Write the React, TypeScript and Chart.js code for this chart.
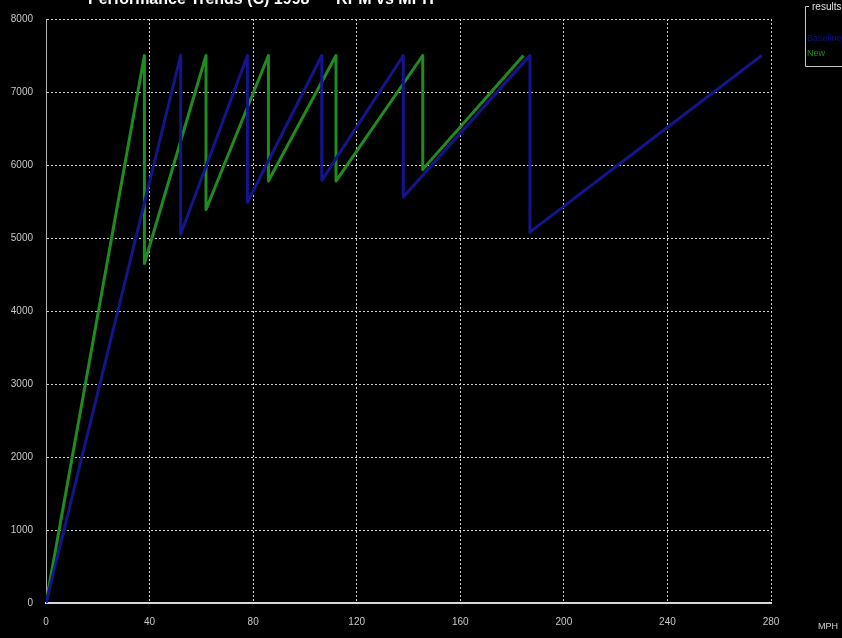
import React, { useEffect, useRef } from "react";
import { Chart, registerables } from "chart.js";

Chart.register(...registerables);

const titleText = "Performance Trends (C) 1998      RPM vs MPH";
const legendTitle = "results";
const seriesNames = ["Baseline", "New"];
const xTicksMax = 280;
const yTicksMax = 8000;

const baselineMph = [0, 52.0, 52.0, 77.8, 77.8, 106.5, 106.5, 138.0, 138.0, 186.9, 186.9, 276.4];
const baselineRpm = [0, 7500, 5050, 7500, 5490, 7500, 5790, 7500, 5560, 7500, 5080, 7500];
const newMph = [0, 38.0, 38.0, 61.8, 61.8, 85.9, 85.9, 112.0, 112.0, 145.5, 145.5, 184.4];
const newRpm = [0, 7500, 4650, 7500, 5390, 7500, 5780, 7500, 5780, 7500, 5940, 7500];

const toPoints = (xs: number[], ys: number[]) => xs.map((x, i) => ({ x, y: ys[i] }));

const BLUE = "#14148c";
const GREEN = "#1e8c1e";

export default function App() {
  const ref = useRef<HTMLCanvasElement>(null);
  useEffect(() => {
    if (!ref.current) return;
    const decor = {
      id: "decor",
      beforeDraw(chart: any) {
        const ctx = chart.ctx;
        ctx.save();
        ctx.fillStyle = "#000";
        ctx.fillRect(0, 0, chart.width, chart.height);
        ctx.restore();
      },
      afterDraw(chart: any) {
        const ctx = chart.ctx;
        ctx.save();
        // title (partially cut off at top)
        ctx.fillStyle = "#ffffff";
        ctx.font = "bold 16px Arial, 'Liberation Sans', sans-serif";
        ctx.textAlign = "left";
        ctx.textBaseline = "alphabetic";
        ctx.fillText(titleText, 88, 4);
        // legend group box
        ctx.strokeStyle = "#c8c8c8";
        ctx.lineWidth = 1;
        ctx.beginPath();
        ctx.moveTo(809, 6.5);
        ctx.lineTo(805.5, 6.5);
        ctx.lineTo(805.5, 66.5);
        ctx.lineTo(842, 66.5);
        ctx.stroke();
        ctx.font = "10px Arial, 'Liberation Sans', sans-serif";
        ctx.textBaseline = "middle";
        ctx.fillStyle = "#e0e0e0";
        ctx.fillText(legendTitle, 812, 7);
        ctx.font = "9px Arial, 'Liberation Sans', sans-serif";
        ctx.fillStyle = "#10107a";
        ctx.fillText(seriesNames[0], 807, 39);
        ctx.fillStyle = GREEN;
        ctx.fillText(seriesNames[1], 807, 54);
        // x axis title
        ctx.fillStyle = "#d0d0d0";
        ctx.font = "9px Arial, 'Liberation Sans', sans-serif";
        ctx.fillText("MPH", 818, 627);
        ctx.restore();
      },
    };
    const chart = new Chart(ref.current, {
      type: "scatter",
      data: {
        datasets: [
          {
            label: seriesNames[0],
            data: toPoints(baselineMph, baselineRpm),
            showLine: true,
            borderColor: BLUE,
            backgroundColor: BLUE,
            borderWidth: 3,
            borderJoinStyle: "round",
            pointRadius: 0,
            tension: 0,
          },
          {
            label: seriesNames[1],
            data: toPoints(newMph, newRpm),
            showLine: true,
            borderColor: GREEN,
            backgroundColor: GREEN,
            borderWidth: 3,
            borderJoinStyle: "round",
            pointRadius: 0,
            tension: 0,
          },
        ],
      },
      options: {
        responsive: false,
        animation: false,
        layout: { padding: { left: 0, top: 13, right: 71, bottom: 0 } },
        plugins: { legend: { display: false }, tooltip: { enabled: false }, title: { display: false } },
        scales: {
          x: {
            type: "linear",
            min: 0,
            max: xTicksMax,
            ticks: {
              stepSize: 40,
              color: "#c8c8c8",
              font: { size: 10, family: "Arial, 'Liberation Sans', sans-serif" },
              padding: 13,
              maxRotation: 0,
              callback: (v: any) => String(v),
            },
            grid: { color: "#d0d0d0", lineWidth: 1, drawTicks: false },
            border: { display: true, color: "#d8d8d8", width: 2, dash: [2, 2] },
            afterFit: (s: any) => {
              s.height = 35;
            },
          },
          y: {
            type: "linear",
            min: 0,
            max: yTicksMax,
            ticks: {
              stepSize: 1000,
              color: "#c8c8c8",
              font: { size: 10, family: "Arial, 'Liberation Sans', sans-serif" },
              padding: 13,
              callback: (v: any) => String(v),
            },
            grid: { color: "#d0d0d0", lineWidth: 1, drawTicks: false },
            border: { display: true, color: "#b0b0b0", width: 1, dash: [2, 2] },
            afterFit: (s: any) => {
              s.width = 46;
            },
          },
        },
      },
      plugins: [decor],
    } as any);
    return () => chart.destroy();
  }, []);
  return (
    <div style={{ position: "fixed", left: 0, top: 0, width: 842, height: 638, background: "#000" }}>
      <canvas ref={ref} width={842} height={638} style={{ display: "block" }} />
    </div>
  );
}
